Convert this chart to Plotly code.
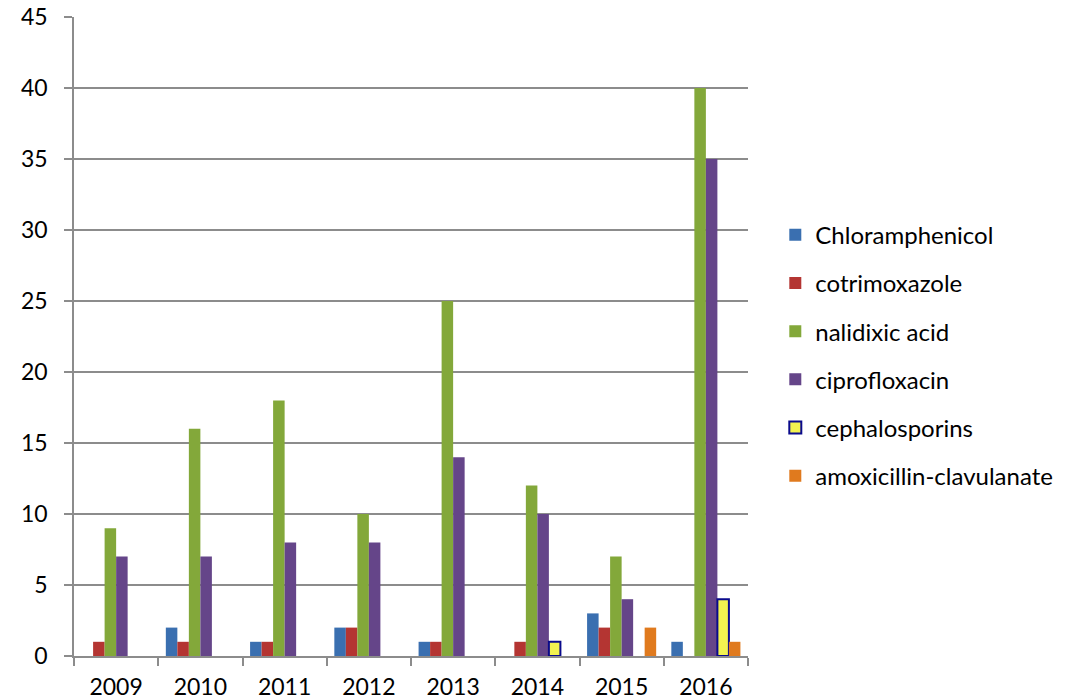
import plotly.graph_objects as go

years = ["2009", "2010", "2011", "2012", "2013", "2014", "2015", "2016"]

chloramphenicol = [0, 2, 1, 2, 1, 0, 3, 1]
cotrimoxazole = [1, 1, 1, 2, 1, 1, 2, 0]
nalidixic_acid = [9, 16, 18, 10, 25, 12, 7, 40]
ciprofloxacin = [7, 7, 8, 8, 14, 10, 4, 35]
cephalosporins = [0, 0, 0, 0, 0, 1, 0, 4]
amoxicillin_clavulanate = [0, 0, 0, 0, 0, 0, 2, 1]

series = [
    ("Chloramphenicol", chloramphenicol, "#3A6FB0", None),
    ("cotrimoxazole", cotrimoxazole, "#B43532", None),
    ("nalidixic acid", nalidixic_acid, "#83A83A", None),
    ("ciprofloxacin", ciprofloxacin, "#654589", None),
    ("cephalosporins", cephalosporins, "#F2F250", "#0A0A8C"),
    ("amoxicillin-clavulanate", amoxicillin_clavulanate, "#E07A1E", None),
]

FONT = "Lato"
AXIS_GRAY = "#8C8C8C"

fig = go.Figure()
for i, (name, vals, color, border) in enumerate(series):
    group = f"g{i}"
    if border:
        # outline only on non-empty bars; the legend swatch comes from a
        # separate empty trace on a hidden axis so it keeps its outline
        widths = [2 if v > 0 else 0 for v in vals]
        fig.add_trace(go.Bar(
            x=years, y=vals, name=name, showlegend=False, legendgroup=group,
            marker=dict(color=color, line=dict(color=border, width=widths)),
        ))
        fig.add_trace(go.Bar(
            x=[None], y=[None], name=name, legendrank=i + 1, legendgroup=group,
            xaxis="x2", yaxis="y2", hoverinfo="skip",
            marker=dict(color=color, line=dict(color=border, width=2)),
        ))
    else:
        fig.add_trace(go.Bar(
            x=years, y=vals, name=name, legendrank=i + 1, legendgroup=group,
            marker=dict(color=color, line=dict(width=0)),
        ))

fig.update_layout(
    width=1074, height=700,
    margin=dict(l=74, r=326, t=17, b=44),
    paper_bgcolor="white", plot_bgcolor="white",
    barmode="group", bargap=0.18, bargroupgap=0,
    font=dict(family=FONT, size=23, color="#000000"),
    legend=dict(x=1.0405, y=0.47, xanchor="left", yanchor="middle",
                font=dict(family=FONT, size=24, color="#000000"),
                tracegroupgap=14, itemwidth=30, traceorder="grouped",
                bgcolor="rgba(0,0,0,0)"),
    xaxis=dict(
        type="category", showline=True, linecolor=AXIS_GRAY, linewidth=1.5,
        ticks="outside", tickson="boundaries", ticklen=8,
        tickcolor=AXIS_GRAY, tickwidth=1.5, showgrid=False,
        tickfont=dict(family=FONT, size=23), ticklabelstandoff=10,
        automargin=False,
    ),
    yaxis=dict(
        range=[0, 45], dtick=5, tick0=0,
        showline=True, linecolor=AXIS_GRAY, linewidth=1.5,
        ticks="outside", ticklen=8, tickcolor=AXIS_GRAY, tickwidth=1.5,
        showgrid=True, gridcolor=AXIS_GRAY, gridwidth=1.5,
        zeroline=False, tickfont=dict(family=FONT, size=23),
        ticklabelstandoff=12, automargin=False,
    ),
    xaxis2=dict(overlaying="x", visible=False, range=[0, 1]),
    yaxis2=dict(overlaying="y", visible=False, range=[0, 1]),
)

fig.write_html("out.html")
